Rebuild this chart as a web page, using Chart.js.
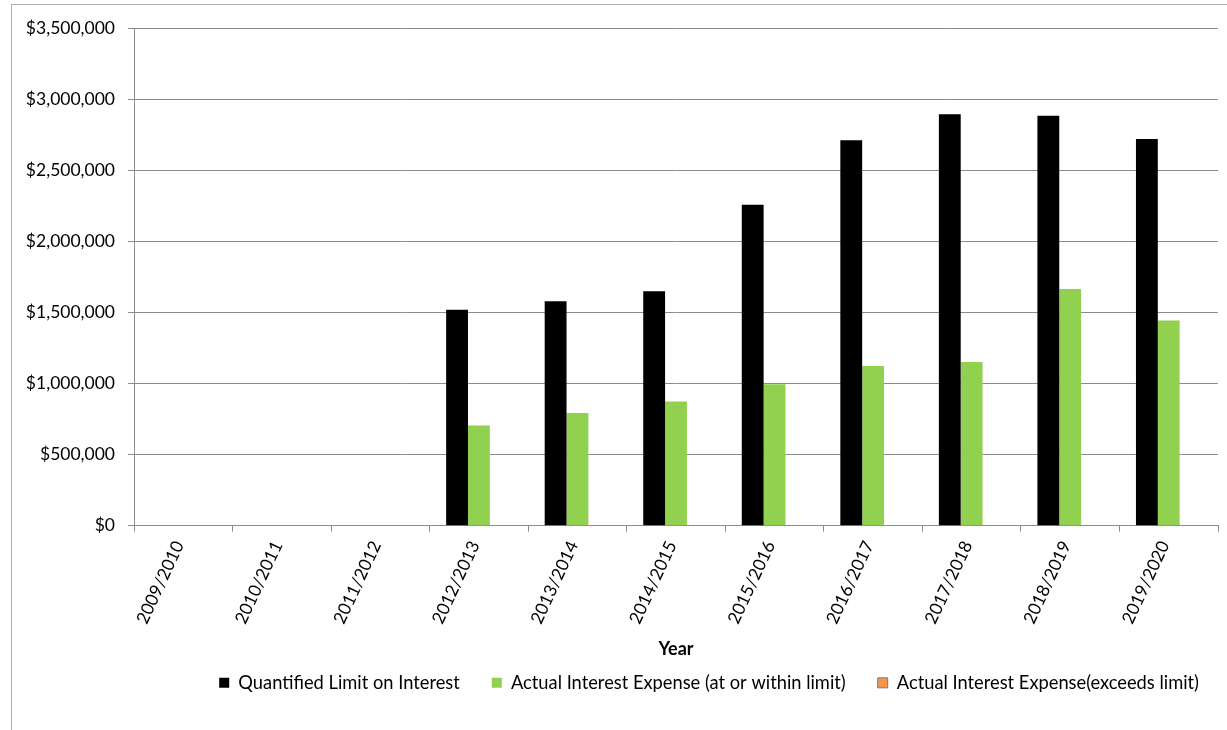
<!DOCTYPE html>
<html>
<head>
<meta charset="utf-8">
<script src="https://cdn.jsdelivr.net/npm/chart.js@4.4.1/dist/chart.umd.min.js"></script>
<style>
  html, body { margin: 0; padding: 0; background: #fff; width: 1227px; height: 730px; overflow: hidden; }
  #frame { position: absolute; left: 11px; top: 4px; width: 1300px; height: 800px; border: 1px solid #b0b0b0; }
  #wrap { position: absolute; left: 12px; top: 5px; width: 1215px; height: 725px; }
</style>
</head>
<body>
<div id="frame"></div>
<div id="wrap"><canvas id="c" width="1215" height="725"></canvas></div>
<script>
const categories = ['2009/2010','2010/2011','2011/2012','2012/2013','2013/2014','2014/2015','2015/2016','2016/2017','2017/2018','2018/2019','2019/2020'];
const quantifiedLimit = [null, null, null, 1520000, 1580000, 1650000, 2260000, 2713000, 2896000, 2885000, 2723000];
const actualWithin = [null, null, null, 705000, 793000, 875000, 995000, 1124000, 1153000, 1667000, 1444000];
const actualExceeds = [null, null, null, null, null, null, null, null, null, null, null];
const seriesNames = ['Quantified Limit on Interest', 'Actual Interest Expense (at or within limit)', 'Actual Interest Expense(exceeds limit)'];
const yTicks = [0, 500000, 1000000, 1500000, 2000000, 2500000, 3000000, 3500000];

const FONT = 'Lato, "Open Sans", sans-serif';

const legendShift = {
  id: 'legendShift',
  afterLayout(chart) {
    const lg = chart.legend;
    if (lg) { lg.left += 13; lg.right += 13; }
  }
};

new Chart(document.getElementById('c'), {
  type: 'bar',
  plugins: [legendShift],
  data: {
    labels: categories,
    datasets: [
      { label: seriesNames[0], data: quantifiedLimit, backgroundColor: '#000000', borderWidth: 0 },
      { label: seriesNames[1], data: actualWithin, backgroundColor: '#92d050', borderWidth: 0 },
      { label: seriesNames[2], data: actualExceeds, backgroundColor: '#f79646', borderColor: '#4f81bd', borderWidth: 1 }
    ]
  },
  options: {
    responsive: false,
    animation: false,
    devicePixelRatio: 1,
    layout: { padding: { left: 0, right: 9, top: 23, bottom: 28 } },
    datasets: { bar: { categoryPercentage: 0.665, barPercentage: 1.0 } },
    plugins: {
      tooltip: { enabled: false },
      legend: {
        position: 'bottom',
        align: 'end',
        labels: {
          color: '#000',
          font: { family: FONT, size: 18.3 },
          boxWidth: 10,
          boxHeight: 10,
          padding: 32
        }
      }
    },
    scales: {
      x: {
        afterFit: (s) => { s.height = 116; },
        grid: { drawOnChartArea: false, drawTicks: true, tickLength: 6, color: '#8c8c8c', offset: true },
        border: { color: '#8c8c8c', width: 1 },
        ticks: {
          autoSkip: false, maxRotation: 65, minRotation: 65, labelOffset: -4,
          color: '#000', font: { family: FONT, size: 17.5 }, padding: 6
        },
        title: { display: true, text: 'Year', color: '#000', font: { family: FONT, size: 18, weight: 'bold' }, padding: { top: 0, bottom: -18 } }
      },
      y: {
        min: 0, max: 3500000,
        afterFit: (s) => { s.width = 122; },
        afterBuildTicks: (s) => { s.ticks = yTicks.map(v => ({ value: v })); },
        grid: { color: '#8c8c8c', tickLength: 6, drawTicks: true },
        border: { color: '#8c8c8c', width: 1 },
        ticks: {
          color: '#000', font: { family: FONT, size: 17.5 }, padding: 13,
          callback: (v) => '$' + Number(v).toLocaleString('en-US')
        }
      }
    }
  }
});
</script>
</body>
</html>
